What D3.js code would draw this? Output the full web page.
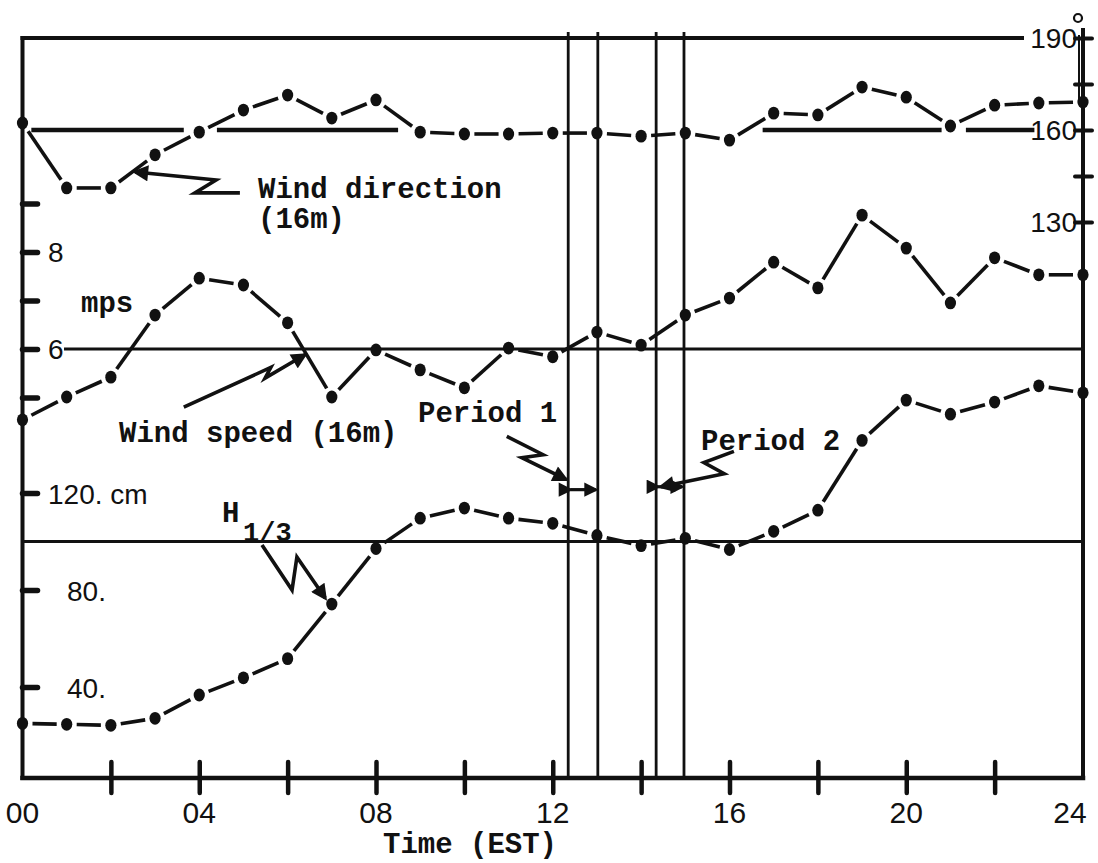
<!DOCTYPE html>
<html>
<head>
<meta charset="utf-8">
<script src="https://cdn.jsdelivr.net/npm/d3@7"></script>
<style>
  html, body { margin: 0; padding: 0; background: #fff; }
  svg { display: block; }
  .tw  { font-family: "Liberation Mono", "DejaVu Sans Mono", monospace; font-weight: bold; font-size: 29px; fill: #111; }
  .num { font-family: "Liberation Sans", Arial, sans-serif; font-size: 28px; fill: #111; }
</style>
</head>
<body>
<svg id="chart" width="1098" height="863"></svg>
<script>
// ---- hourly observations, 00 to 24 EST ----
const hours = [0, 1, 2, 3, 4, 5, 6, 7, 8, 9, 10, 11, 12, 13, 14, 15, 16, 17, 18, 19, 20, 21, 22, 23, 24];

// wind direction at 16 m (degrees)
const windDirection = [162.3, 141.1, 141.1, 151.9, 159.3, 166.5, 171.4, 163.9, 169.8, 159.3, 158.7, 158.7, 159.0,
                       159.0, 158.0, 159.0, 156.7, 165.5, 164.9, 174.0, 170.7, 161.3, 168.1, 168.8, 169.1];

// wind speed at 16 m (m/s)
const windSpeed = [4.54, 5.01, 5.42, 6.70, 7.46, 7.32, 6.54, 5.01, 5.98, 5.57, 5.20, 6.02, 5.84,
                   6.35, 6.08, 6.70, 7.05, 7.79, 7.26, 8.76, 8.08, 6.95, 7.88, 7.53, 7.53];

// significant wave height H1/3 (cm)
const waveHeight = [25.0, 24.6, 24.2, 27.1, 36.7, 43.8, 51.7, 74.2, 97.1, 109.6, 113.8, 109.6, 107.5,
                    102.5, 98.3, 101.3, 96.7, 104.2, 112.9, 141.7, 158.3, 152.5, 157.5, 164.2, 161.3];

// axis ticks and labels
const timeTickHours  = [2, 4, 6, 8, 10, 12, 14, 16, 18, 20, 22];
const timeLabelHours = [0, 4, 8, 12, 16, 20, 24];
const timeLabels     = ["00", "04", "08", "12", "16", "20", "24"];
const speedTicks     = [5, 6, 7, 8, 9];
const speedLabels    = [{v: 8, t: "8"}, {v: 6, t: "6"}];
const heightTicks    = [40, 80, 120];
const heightLabels   = [{v: 120, t: "120. cm"}, {v: 80, t: "80."}, {v: 40, t: "40."}];
const directionTicks = [130, 145, 160, 175, 190];
const directionLabels = [{v: 190, t: "190"}, {v: 160, t: "160"}, {v: 130, t: "130"}];

// reference levels
const directionRef = 160;
const directionRefSpans = [[0.2, 3.65], [4.4, 8.5], [16.75, 20.8], [21.35, 22.9]];
const speedRef = 6;
const heightRef = 100;

// analysis periods (hours)
const period1 = [12.35, 13.02];
const period2 = [14.34, 14.97];

// ---- layout ----
const svg = d3.select("#chart");
const W = 1098, H = 863;
const plotLeft = 22.5, plotRight = 1083, plotTop = 38, plotBottom = 778;

svg.append("rect").attr("width", W).attr("height", H).attr("fill", "#fff");

const x     = d3.scaleLinear().domain([0, 24]).range([plotLeft, plotRight]);
const yDir  = d3.scaleLinear().domain([130, 190]).range([222, 38]);
const ySpd  = d3.scaleLinear().domain([5, 9]).range([397.5, 203.5]);
const yH    = d3.scaleLinear().domain([40, 120]).range([687, 493]);

const ink = "#111";

// ---- frame ----
const frame = svg.append("g").attr("stroke", ink).attr("fill", "none").attr("stroke-linecap", "square");
frame.append("line").attr("x1", plotLeft).attr("x2", 1022).attr("y1", plotTop).attr("y2", plotTop).attr("stroke-width", 4);
frame.append("line").attr("x1", plotLeft).attr("x2", plotLeft).attr("y1", plotTop).attr("y2", plotBottom).attr("stroke-width", 4);
frame.append("line").attr("x1", plotLeft).attr("x2", plotRight).attr("y1", plotBottom).attr("y2", plotBottom).attr("stroke-width", 4.5);
frame.append("line").attr("x1", plotRight).attr("x2", plotRight).attr("y1", 30).attr("y2", plotBottom).attr("stroke-width", 4);
frame.append("line").attr("x1", plotRight - 4).attr("x2", plotRight - 4).attr("y1", 36).attr("y2", 100).attr("stroke-width", 2);

// period boundaries
svg.append("g").selectAll("line").data([...period1, ...period2]).join("line")
  .attr("x1", d => x(d)).attr("x2", d => x(d))
  .attr("y1", 32).attr("y2", plotBottom)
  .attr("stroke", ink).attr("stroke-width", 2.8);

// ---- axes ----
const gx = svg.append("g").attr("transform", `translate(0,${plotBottom})`)
  .call(d3.axisBottom(x).tickValues(timeTickHours).tickSizeInner(15).tickSizeOuter(0).tickFormat(""));
gx.select(".domain").remove();
gx.selectAll(".tick line").attr("y1", -16).attr("stroke", ink).attr("stroke-width", 4.5).attr("stroke-linecap", "round");

svg.append("g").selectAll("text").data(timeLabelHours).join("text")
  .attr("class", "num").style("font-size", "30px")
  .attr("x", d => Math.min(x(d), 1070)).attr("y", 823)
  .attr("text-anchor", "middle")
  .text((d, i) => timeLabels[i]);

svg.append("text").attr("class", "tw").attr("x", 470).attr("y", 853).attr("text-anchor", "middle").text("Time (EST)");

function leftTicks(scale, values) {
  const g = svg.append("g").attr("transform", `translate(${plotLeft},0)`)
    .call(d3.axisLeft(scale).tickValues(values).tickSizeInner(15).tickSizeOuter(0).tickFormat(""));
  g.select(".domain").remove();
  g.selectAll(".tick line").attr("x2", 15).attr("stroke", ink).attr("stroke-width", 5.5).attr("stroke-linecap", "round");
}
leftTicks(ySpd, speedTicks);
leftTicks(yH, heightTicks);

svg.append("g").selectAll("text").data(speedLabels).join("text")
  .attr("class", "num").attr("x", 48).attr("y", d => ySpd(d.v) + 10).text(d => d.t);
svg.append("g").selectAll("text").data(heightLabels).join("text")
  .attr("class", "num").attr("x", (d, i) => i === 0 ? 48 : 67).attr("y", d => yH(d.v) + 11).text(d => d.t);
svg.append("text").attr("class", "tw").attr("x", 81).attr("y", 312).text("mps");

const gr = svg.append("g").attr("transform", `translate(${plotRight},0)`)
  .call(d3.axisRight(yDir).tickValues(directionTicks).tickSizeInner(9).tickSizeOuter(0).tickFormat(""));
gr.select(".domain").remove();
gr.selectAll(".tick line").attr("x1", -8).attr("stroke", ink).attr("stroke-width", 4).attr("stroke-linecap", "round");

svg.append("g").selectAll("text").data(directionLabels).join("text")
  .attr("class", "num").attr("x", 1077).attr("y", d => yDir(d.v) + 10).attr("text-anchor", "end").text(d => d.t);
svg.append("circle").attr("cx", 1078).attr("cy", 18).attr("r", 4).attr("fill", "none").attr("stroke", ink).attr("stroke-width", 2.2);

// ---- reference levels ----
svg.append("g").selectAll("line").data(directionRefSpans).join("line")
  .attr("x1", d => x(d[0])).attr("x2", d => x(d[1]))
  .attr("y1", yDir(directionRef)).attr("y2", yDir(directionRef))
  .attr("stroke", ink).attr("stroke-width", 4.5);
svg.append("line").attr("x1", 64).attr("x2", plotRight)
  .attr("y1", ySpd(speedRef)).attr("y2", ySpd(speedRef)).attr("stroke", ink).attr("stroke-width", 3.2);
svg.append("line").attr("x1", plotLeft).attr("x2", plotRight)
  .attr("y1", yH(heightRef)).attr("y2", yH(heightRef)).attr("stroke", ink).attr("stroke-width", 3.2);

// ---- series: broken connecting strokes and filled dots ----
function series(values, yScale, gap) {
  const pts = hours.map((h, i) => [x(h), yScale(values[i])]);
  const segs = d3.pairs(pts).map(([p, q]) => {
    const dx = q[0] - p[0], dy = q[1] - p[1], L = Math.hypot(dx, dy);
    const k = gap / L;
    return [p[0] + dx * k, p[1] + dy * k, q[0] - dx * k, q[1] - dy * k];
  });
  const g = svg.append("g");
  g.selectAll("line").data(segs).join("line")
    .attr("x1", d => d[0]).attr("y1", d => d[1]).attr("x2", d => d[2]).attr("y2", d => d[3])
    .attr("stroke", ink).attr("stroke-width", 3.6);
  g.selectAll("ellipse").data(pts).join("ellipse")
    .attr("cx", d => d[0]).attr("cy", d => d[1]).attr("rx", 5.6).attr("ry", 6.4).attr("fill", ink);
}
series(windDirection, yDir, 10);
series(windSpeed, ySpd, 10);
series(waveHeight, yH, 10);

// ---- callouts ----
svg.append("defs").append("marker")
  .attr("id", "head").attr("viewBox", "0 0 10 10").attr("refX", 8).attr("refY", 5)
  .attr("markerWidth", 5).attr("markerHeight", 4.5).attr("orient", "auto")
  .append("path").attr("d", "M0,0 L10,5 L0,10 Z").attr("fill", ink);

function callout(points, xs, ys) {
  svg.append("path")
    .attr("d", d3.line()(points.map(p => [xs(p[0]), ys(p[1])])))
    .attr("fill", "none").attr("stroke", ink).attr("stroke-width", 3.6)
    .attr("stroke-linejoin", "miter").attr("marker-end", "url(#head)");
}
function span(range, level, ys) {
  svg.append("line")
    .attr("x1", x(range[0]) + 2).attr("x2", x(range[1]) - 2)
    .attr("y1", ys(level)).attr("y2", ys(level))
    .attr("stroke", ink).attr("stroke-width", 3.2)
    .attr("marker-start", "url(#head)").attr("marker-end", "url(#head)");
}

callout([[4.92, 139.5], [3.9, 139.5], [4.38, 143.7], [2.55, 146.3]], x, yDir);
svg.append("text").attr("class", "tw").attr("x", 258).attr("y", 198).text("Wind direction");
svg.append("text").attr("class", "tw").attr("x", 258).attr("y", 228).text("(16m)");

callout([[3.65, 4.80], [5.62, 5.62], [5.49, 5.40], [6.39, 5.88]], x, ySpd);
svg.append("text").attr("class", "tw").attr("x", 119).attr("y", 442).text("Wind speed (16m)");

callout([[10.96, 4.20], [11.78, 3.82], [11.30, 3.76], [12.30, 3.31]], x, ySpd);
span(period1, 3.10, ySpd);
svg.append("text").attr("class", "tw").attr("x", 418).attr("y", 422).text("Period 1");

callout([[16.10, 3.89], [15.42, 3.66], [15.88, 3.43], [14.45, 3.16]], x, ySpd);
span(period2, 3.16, ySpd);
svg.append("text").attr("class", "tw").attr("x", 701).attr("y", 450).text("Period 2");

callout([[5.42, 98.6], [6.10, 80.0], [6.21, 93.6], [6.85, 76.7]], x, yH);
svg.append("text").attr("class", "tw").attr("x", 222).attr("y", 522).text("H");
svg.append("text").attr("class", "tw").style("font-size", "27px").attr("x", 243).attr("y", 541).text("1/3");
</script>
</body>
</html>
